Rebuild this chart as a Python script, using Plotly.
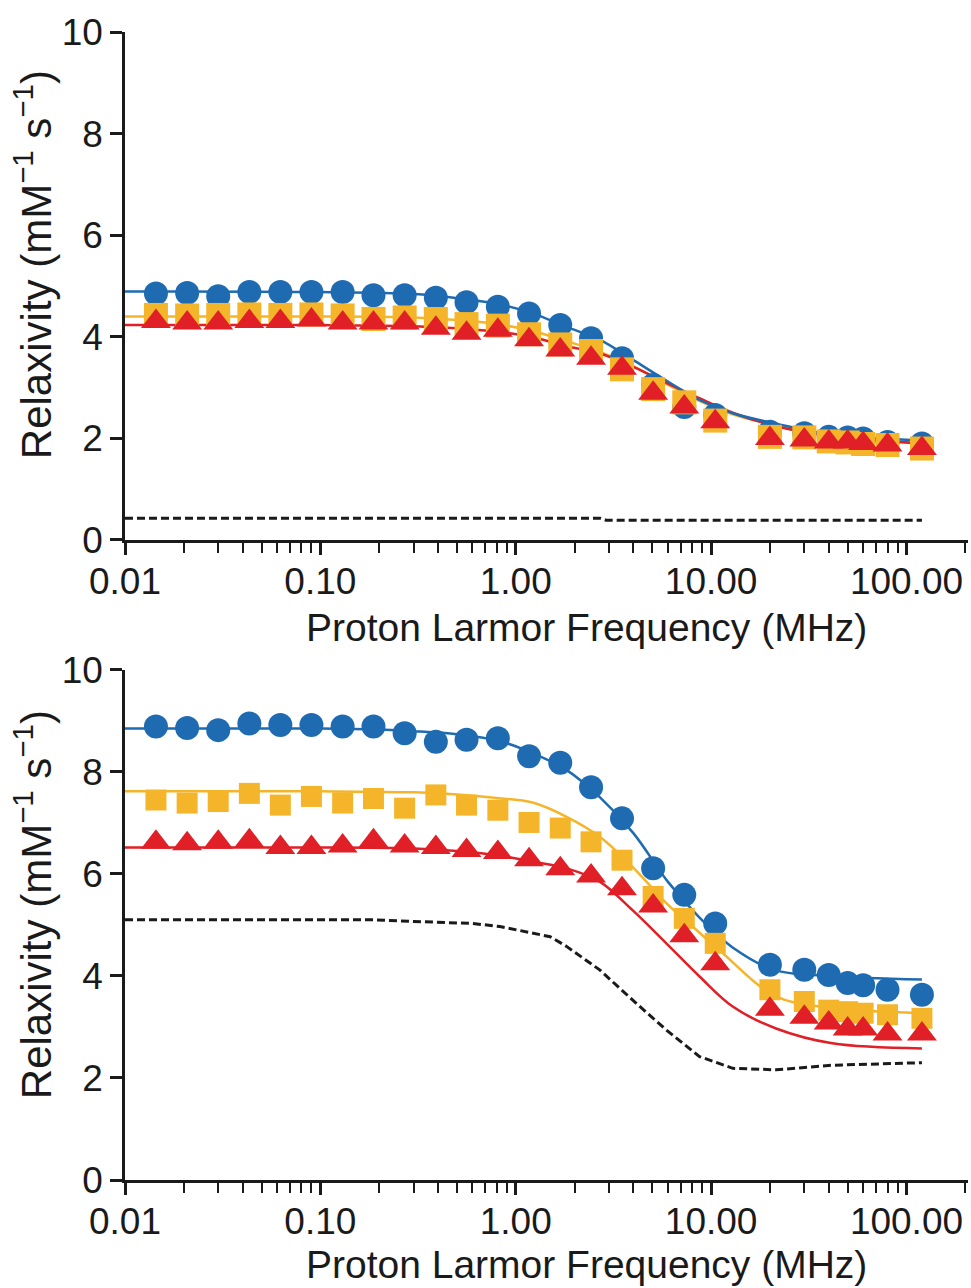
import plotly.graph_objects as go

# ---------------- data ----------------
freq = [0.0144, 0.0208, 0.030, 0.0433, 0.0624, 0.090, 0.130, 0.187, 0.270, 0.390,
        0.560, 0.810, 1.17, 1.69, 2.43, 3.50, 5.05, 7.29, 10.5, 20, 30, 40, 50, 60, 80, 120]

# top panel measured points
top_circle = [4.85, 4.86, 4.80, 4.88, 4.88, 4.88, 4.88, 4.82, 4.82, 4.77, 4.68, 4.59, 4.46,
              4.23, 3.97, 3.58, 3.05, 2.62, 2.46, 2.13, 2.10, 2.03, 2.02, 2.00, 1.93, 1.90]
top_square = [4.43, 4.42, 4.43, 4.44, 4.43, 4.44, 4.42, 4.35, 4.38, 4.35, 4.25, 4.22, 4.05,
              3.85, 3.72, 3.36, 2.97, 2.71, 2.35, 2.03, 2.02, 1.94, 1.92, 1.89, 1.87, 1.80]
top_triangle = [4.30, 4.27, 4.27, 4.30, 4.30, 4.33, 4.27, 4.27, 4.27, 4.17, 4.07, 4.13, 3.94,
                3.74, 3.58, 3.38, 2.89, 2.62, 2.33, 2.00, 1.97, 1.93, 1.93, 1.90, 1.87, 1.80]

# top panel fitted curves
top_fit_x = [0.01, 0.1, 0.3, 0.5, 0.8, 1.2, 1.8, 2.7, 4, 6, 8.7, 13, 21, 40, 120]
top_fit_blue = [4.89, 4.88, 4.84, 4.76, 4.65, 4.47, 4.20, 3.94, 3.54, 3.12, 2.76, 2.49, 2.30, 2.08, 1.96]
top_fit_yellow = [4.40, 4.40, 4.38, 4.33, 4.25, 4.12, 3.92, 3.70, 3.42, 3.06, 2.74, 2.47, 2.27, 2.05, 1.90]
top_fit_red = [4.23, 4.23, 4.21, 4.17, 4.10, 4.00, 3.82, 3.67, 3.41, 3.08, 2.79, 2.50, 2.25, 2.05, 1.90]
top_dash_x = [0.01, 0.1, 1, 2.7, 2.9, 10, 120]
top_dash_y = [0.43, 0.43, 0.43, 0.43, 0.39, 0.39, 0.39]

# bottom panel measured points
bot_circle = [8.89, 8.86, 8.82, 8.95, 8.92, 8.92, 8.89, 8.89, 8.76, 8.59, 8.63, 8.66, 8.31,
              8.18, 7.70, 7.09, 6.11, 5.59, 5.03, 4.22, 4.12, 4.02, 3.86, 3.82, 3.73, 3.63]
bot_square = [7.45, 7.39, 7.42, 7.58, 7.35, 7.52, 7.39, 7.48, 7.29, 7.55, 7.35, 7.25, 7.01,
              6.90, 6.63, 6.27, 5.56, 5.13, 4.64, 3.73, 3.50, 3.33, 3.30, 3.27, 3.24, 3.17]
bot_triangle = [6.62, 6.59, 6.62, 6.65, 6.52, 6.52, 6.55, 6.65, 6.55, 6.52, 6.46, 6.42, 6.28,
                6.10, 5.96, 5.71, 5.37, 4.79, 4.24, 3.35, 3.19, 3.08, 2.96, 2.96, 2.86, 2.86]

# bottom panel fitted curves
bot_blue_x = [0.01, 0.1, 0.2, 0.3, 0.5, 0.8, 1.2, 1.8, 2.7, 4, 6, 8.7, 13, 21, 40, 120]
bot_blue_y = [8.85, 8.85, 8.83, 8.80, 8.74, 8.62, 8.38, 8.05, 7.50, 6.80, 5.85, 5.15, 4.55, 4.12, 4.00, 3.93]
bot_yellow_x = [0.01, 0.1, 0.3, 0.5, 0.8, 1.22, 1.82, 2.69, 3.96, 5.9, 8.04, 11.0, 21.5, 40, 120]
bot_yellow_y = [7.62, 7.62, 7.60, 7.56, 7.49, 7.40, 7.12, 6.73, 6.14, 5.43, 4.97, 4.51, 3.60, 3.38, 3.27]
bot_red_x = [0.01, 0.1, 0.3, 0.5, 0.83, 1.22, 1.82, 2.69, 3.96, 5.9, 8.73, 12.9, 21.5, 41.7, 120]
bot_red_y = [6.52, 6.52, 6.50, 6.45, 6.36, 6.24, 6.11, 5.85, 5.29, 4.64, 3.99, 3.40, 2.97, 2.68, 2.58]
bot_dash_x = [0.01, 0.1, 0.19, 0.3, 0.6, 0.83, 1.22, 1.5, 1.82, 2.69, 3.96, 5.9, 8.73, 12.9, 21.5, 41.7, 120]
bot_dash_y = [5.10, 5.10, 5.10, 5.07, 5.03, 4.97, 4.84, 4.77, 4.58, 4.12, 3.53, 2.94, 2.42, 2.19, 2.16, 2.25, 2.30]

x_tickvals = [0.01, 0.1, 1, 10, 100]
x_ticktext = ["0.01", "0.10", "1.00", "10.00", "100.00"]
x_minor = [m * d for d in [0.01, 0.1, 1, 10, 100] for m in range(2, 10)]

BLUE = "#1f6bb2"
YELLOW = "#f4b52a"
RED = "#e01f26"
DARK = "#1a1a1a"
FONT = "Liberation Sans, Arial, sans-serif"

fig = go.Figure()


def add_panel(xa, ya, fits, dash, circ, sq, tri, sq_size):
    for fx, fy, col in fits:
        fig.add_trace(go.Scatter(x=fx, y=fy, mode="lines", line=dict(color=col, width=2.5, shape="spline"),
                                 xaxis=xa, yaxis=ya, showlegend=False, hoverinfo="skip"))
    fig.add_trace(go.Scatter(x=dash[0], y=dash[1], mode="lines",
                             line=dict(color=DARK, width=3, dash="8px,4px", shape="linear"),
                             xaxis=xa, yaxis=ya, showlegend=False))
    fig.add_trace(go.Scatter(x=freq, y=circ, mode="markers",
                             marker=dict(symbol="circle", size=24, color=BLUE, line=dict(width=0)),
                             xaxis=xa, yaxis=ya, showlegend=False))
    fig.add_trace(go.Scatter(x=freq, y=sq, mode="markers",
                             marker=dict(symbol="square", size=sq_size, color=YELLOW, line=dict(width=0)),
                             xaxis=xa, yaxis=ya, showlegend=False))
    fig.add_trace(go.Scatter(x=freq, y=tri, mode="markers",
                             marker=dict(symbol="triangle-up", size=26, color=RED, line=dict(width=0)),
                             xaxis=xa, yaxis=ya, showlegend=False))


add_panel("x", "y",
          [(top_fit_x, top_fit_yellow, YELLOW), (top_fit_x, top_fit_red, RED), (top_fit_x, top_fit_blue, BLUE)],
          (top_dash_x, top_dash_y), top_circle, top_square, top_triangle, 24)
add_panel("x2", "y2",
          [(bot_yellow_x, bot_yellow_y, YELLOW), (bot_red_x, bot_red_y, RED), (bot_blue_x, bot_blue_y, BLUE)],
          (bot_dash_x, bot_dash_y), bot_circle, bot_square, bot_triangle, 21)

xcommon = dict(type="log", range=[-2, 2.315], tickmode="array", tickvals=x_tickvals, ticktext=x_ticktext,
               showline=True, linewidth=2.5, linecolor=DARK, ticks="outside", ticklen=12, tickwidth=2.5,
               tickcolor=DARK, showgrid=False, zeroline=False, ticklabelstandoff=-5,
               tickfont=dict(family=FONT, size=37, color=DARK),
               minor=dict(tickmode="array", tickvals=x_minor, ticks="outside", ticklen=10,
                          tickwidth=2, tickcolor=DARK, showgrid=False))
ycommon = dict(range=[0, 10], tickmode="linear", tick0=0, dtick=2,
               showline=True, linewidth=2.5, linecolor=DARK, ticks="outside", ticklen=12, tickwidth=2.5,
               tickcolor=DARK, showgrid=False, zeroline=False,
               tickfont=dict(family=FONT, size=37, color=DARK))

fig.update_layout(
    width=971, height=1288,
    margin=dict(l=125, r=3, t=32, b=108),
    plot_bgcolor="white", paper_bgcolor="white",
    xaxis=dict(domain=[0, 1], anchor="y", **xcommon),
    yaxis=dict(domain=[0.5575, 1], anchor="x", **ycommon),
    xaxis2=dict(domain=[0, 1], anchor="y2", **xcommon),
    yaxis2=dict(domain=[0, 0.4443], anchor="x2", **ycommon),
)

xtitle = "Proton Larmor Frequency (MHz)"
ytitle = "Relaxivity (mM<sup>\u22121</sup> s<sup>\u22121</sup>)"
for yy in [0.4817, -0.0732]:
    fig.add_annotation(text=xtitle, xref="paper", yref="paper", x=0.548, y=yy, showarrow=False,
                       xanchor="center", yanchor="middle", font=dict(family=FONT, size=39, color=DARK))
for yy in [0.797, 0.2395]:
    fig.add_annotation(text=ytitle, xref="paper", yref="paper", x=-0.109, y=yy, showarrow=False,
                       textangle=-90, xanchor="center", yanchor="middle",
                       font=dict(family=FONT, size=42, color=DARK))

fig.write_html("out.html")
